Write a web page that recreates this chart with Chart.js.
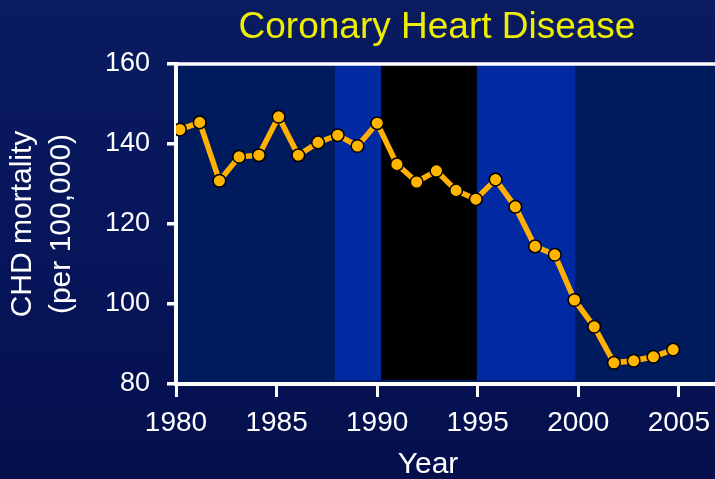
<!DOCTYPE html>
<html>
<head>
<meta charset="utf-8">
<script src="https://cdn.jsdelivr.net/npm/chart.js@4.4.1/dist/chart.umd.min.js"></script>
<style>
  html, body {
    margin: 0;
    padding: 0;
    width: 715px;
    height: 479px;
    overflow: hidden;
    background: linear-gradient(180deg, #0a1b60 0%, #07155a 55%, #050f4c 100%);
  }
  #wrap { position: relative; width: 747px; height: 479px; }
</style>
</head>
<body>
<div id="wrap"><canvas id="chdChart" width="747" height="479"></canvas></div>
<script>
// data
const years = [1980, 1981, 1982, 1983, 1984, 1985, 1986, 1987, 1988, 1989, 1990, 1991, 1992,
  1993, 1994, 1995, 1996, 1997, 1998, 1999, 2000, 2001, 2002, 2003, 2004, 2005];
const chdMortality = [143.6, 145.4, 130.8, 136.8, 137.2, 146.8, 137.2, 140.4, 142.2, 139.5, 145.2,
  134.9, 130.5, 133.3, 128.4, 126.2, 131.1, 124.3, 114.4, 112.3, 101.0, 94.3, 85.3, 85.8, 86.8, 88.6];
const xTickLabels = [1980, 1985, 1990, 1995, 2000, 2005];
const yTickLabels = [80, 100, 120, 140, 160];
// shaded periods [from, to]
const blueBands = [[1987.9, 1990.2], [1994.95, 1999.85]];
const blackBands = [[1990.2, 1994.95]];

const titleText = "Coronary Heart Disease";
const xTitle = "Year";
const yTitle = ["CHD mortality", "(per 100,000)"];

Chart.defaults.font.family = "'Liberation Sans', Arial, sans-serif";
Chart.defaults.color = "#ffffff";

// plot background, shaded bands, top frame line and texts
const slidePlugin = {
  id: "slide",
  beforeDraw(chart) {
    const { ctx, chartArea: a } = chart;
    ctx.save();
    ctx.fillStyle = "#001a5e";
    ctx.fillRect(a.left, a.top, a.right - a.left, a.bottom - a.top);
    ctx.restore();
  },
  beforeDatasetsDraw(chart) {
    const { ctx, chartArea: a } = chart;
    const xs = chart.scales.x;
    const top = a.top + 1.5;
    const bottom = a.bottom - 4;
    ctx.save();
    const fillBand = (band, color) => {
      const x0 = xs.getPixelForValue(band[0]);
      const x1 = xs.getPixelForValue(band[1]);
      ctx.fillStyle = color;
      ctx.fillRect(x0, top, x1 - x0, bottom - top);
    };
    blueBands.forEach((b) => fillBand(b, "#0029a2"));
    blackBands.forEach((b) => fillBand(b, "#000000"));

    ctx.strokeStyle = "#ffffff";
    ctx.lineWidth = 3.5;
    ctx.beginPath();
    ctx.moveTo(a.left, a.top);
    ctx.lineTo(a.right, a.top);
    ctx.stroke();
    ctx.restore();
  },
  afterDraw(chart) {
    const { ctx } = chart;
    ctx.save();
    ctx.textAlign = "center";
    ctx.textBaseline = "alphabetic";
    ctx.fillStyle = "#eeee00";
    ctx.font = "37px 'Liberation Sans', Arial, sans-serif";
    ctx.fillText(titleText, 437, 38);
    ctx.fillStyle = "#ffffff";
    ctx.font = "30px 'Liberation Sans', Arial, sans-serif";
    ctx.fillText(xTitle, 428, 473);
    ctx.restore();
  },
};

const ctx = document.getElementById("chdChart").getContext("2d");
new Chart(ctx, {
  type: "line",
  data: {
    datasets: [
      {
        label: "CHD mortality",
        data: years.map((yr, i) => ({ x: yr, y: chdMortality[i] })),
        xAxisID: "xd",
        yAxisID: "y",
        borderColor: "#ffb000",
        borderWidth: 5.5,
        pointRadius: 6.3,
        pointBackgroundColor: "#ffb400",
        pointBorderColor: "#000000",
        pointBorderWidth: 1.5,
        tension: 0,
        fill: false,
      },
    ],
  },
  options: {
    responsive: false,
    animation: false,
    layout: { padding: { top: 64, left: 0, right: 0, bottom: 0 } },
    plugins: {
      legend: { display: false },
      tooltip: { enabled: false },
    },
    scales: {
      x: {
        type: "linear",
        position: "bottom",
        min: 1980,
        max: 2008,
        afterBuildTicks: (s) => {
          s.ticks = xTickLabels.map((v) => ({ value: v }));
        },
        afterFit: (s) => {
          s.height = 95;
        },
        ticks: {
          color: "#ffffff",
          font: { size: 28 },
          padding: 9,
          maxRotation: 0,
          autoSkip: false,
          callback: (v) => String(v),
        },
        grid: {
          drawOnChartArea: false,
          color: "#ffffff",
          lineWidth: 3,
          tickLength: 13,
        },
        border: { color: "#ffffff", width: 4 },
      },
      // points sit on a slightly different spacing than the tick marks
      xd: {
        type: "linear",
        display: false,
        min: 1979.8,
        max: 2008.35,
      },
      y: {
        type: "linear",
        position: "left",
        min: 80,
        max: 160,
        afterBuildTicks: (s) => {
          s.ticks = yTickLabels.map((v) => ({ value: v }));
        },
        afterFit: (s) => {
          s.width = 176;
        },
        ticks: {
          color: "#ffffff",
          font: { size: 27 },
          padding: 17,
          callback: (v) => String(v),
        },
        grid: {
          drawOnChartArea: false,
          color: "#ffffff",
          lineWidth: 3.5,
          tickLength: 9,
        },
        border: { color: "#ffffff", width: 4 },
        title: {
          display: true,
          text: yTitle,
          color: "#ffffff",
          font: { size: 30, lineHeight: 1.3 },
          padding: { top: 3.5, bottom: 0 },
        },
      },
    },
  },
  plugins: [slidePlugin],
});
</script>
</body>
</html>
